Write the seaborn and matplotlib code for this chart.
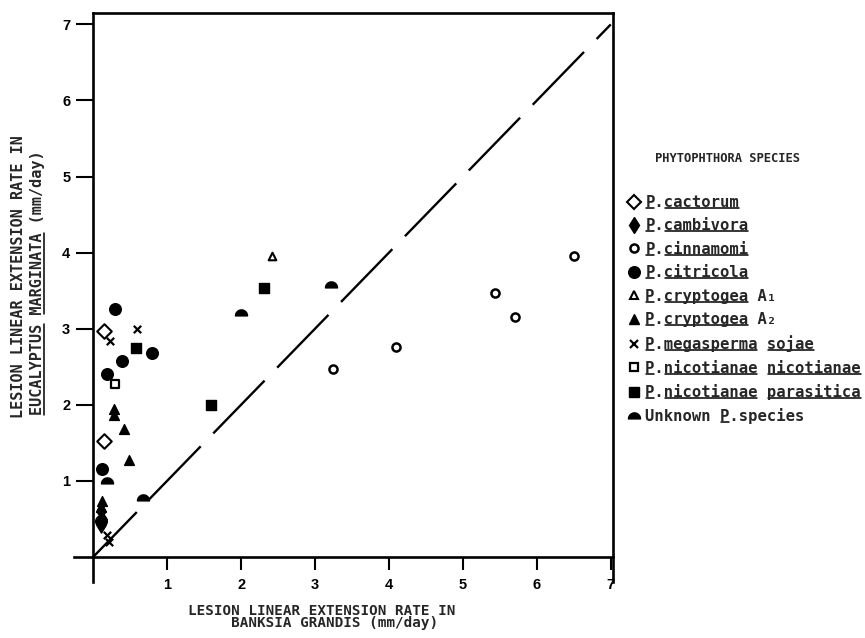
import numpy as np
import pandas as pd
import matplotlib
matplotlib.use("Agg")
import matplotlib.pyplot as plt
import seaborn as sns
from matplotlib.path import Path
from matplotlib.lines import Line2D

# ---------------- data ----------------
cactorum_x = [0.15, 0.14]
cactorum_y = [2.97, 1.52]
cambivora_x = [0.10, 0.12, 0.10]
cambivora_y = [0.60, 0.50, 0.42]
cinnamomi_x = [3.24, 4.10, 5.43, 5.71, 6.50]
cinnamomi_y = [2.47, 2.76, 3.47, 3.16, 3.96]
citricola_x = [0.30, 0.80, 0.39, 0.18, 0.12, 0.10]
citricola_y = [3.26, 2.68, 2.58, 2.40, 1.16, 0.47]
cryptA1_x = [2.42]
cryptA1_y = [3.96]
cryptA2_x = [0.28, 0.28, 0.42, 0.48, 0.12, 0.10]
cryptA2_y = [1.95, 1.87, 1.68, 1.28, 0.73, 0.65]
megasperma_x = [0.59, 0.23, 0.18, 0.22]
megasperma_y = [2.99, 2.84, 0.29, 0.20]
nicnic_x = [0.30]
nicnic_y = [2.27]
nicpar_x = [0.58, 1.59, 2.31]
nicpar_y = [2.74, 2.00, 3.53]
unknown_x = [2.00, 3.22, 0.18, 0.67]
unknown_y = [3.20, 3.58, 1.00, 0.77]

diag_x = [0.0, 7.0]
diag_y = [0.0, 7.0]

labels = ["P.cactorum", "P.cambivora", "P.cinnamomi", "P.citricola",
          "P.cryptogea A\u2081", "P.cryptogea A\u2082", "P.megasperma sojae",
          "P.nicotianae nicotianae", "P.nicotianae parasitica",
          "Unknown P.species"]
xs = [cactorum_x, cambivora_x, cinnamomi_x, citricola_x, cryptA1_x, cryptA2_x,
      megasperma_x, nicnic_x, nicpar_x, unknown_x]
ys = [cactorum_y, cambivora_y, cinnamomi_y, citricola_y, cryptA1_y, cryptA2_y,
      megasperma_y, nicnic_y, nicpar_y, unknown_y]
xticks = [1, 2, 3, 4, 5, 6, 7]
yticks = [1, 2, 3, 4, 5, 6, 7]

df = pd.concat([pd.DataFrame({"x": a, "y": b, "species": l})
                for a, b, l in zip(xs, ys, labels)], ignore_index=True)

# ---------------- styling ----------------
sns.set_theme(style="white")
plt.rcParams["lines.scale_dashes"] = False
MONO = ["DejaVu Sans Mono", "Liberation Mono"]
SANS = ["Liberation Sans", "DejaVu Sans"]
plt.rcParams["font.family"] = SANS

th = np.linspace(0, np.pi, 25)
dome_verts = [(np.cos(t), np.sin(t) - 0.4) for t in th] + [(1.0, -0.4)]
dome = Path(dome_verts, [Path.MOVETO] + [Path.LINETO] * (len(th) - 1) + [Path.CLOSEPOLY])

# marker, area, facecolor, linewidth
styles = {
    "P.cactorum": ("D", 55, "white", 1.5),
    "P.cambivora": ("d", 60, "black", 1.0),
    "P.cinnamomi": ("o", 34, "white", 1.8),
    "P.citricola": ("o", 70, "black", 1.0),
    "P.cryptogea A\u2081": ("^", 30, "white", 1.5),
    "P.cryptogea A\u2082": ("^", 50, "black", 1.0),
    "P.megasperma sojae": ("x", 28, "black", 1.6),
    "P.nicotianae nicotianae": ("s", 36, "white", 1.6),
    "P.nicotianae parasitica": ("s", 45, "black", 1.0),
    "Unknown P.species": (dome, 75, "black", 1.0),
}

fig = plt.figure(figsize=(8.65, 6.38), dpi=100)
ax = fig.add_axes([74 / 865, 56 / 638, 539 / 865, 569 / 638])
ax.set_facecolor("white")

for lab in labels:
    m, s, fc, lw = styles[lab]
    sub = df[df["species"] == lab]
    if m == "x":
        sns.scatterplot(data=sub, x="x", y="y", marker="x", s=s, color="black",
                        linewidth=lw, ax=ax, legend=False, zorder=3)
    else:
        sns.scatterplot(data=sub, x="x", y="y", marker=m, s=s, color=fc,
                        edgecolor="black", linewidth=lw, ax=ax, legend=False, zorder=3)

sns.lineplot(x=diag_x, y=diag_y, ax=ax, color="black", linewidth=1.7,
             linestyle=(8, (53, 13)), zorder=2)

ax.set_xlim(-0.26, 7.03)
ax.set_ylim(-0.33, 7.15)
ax.set_xlabel("")
ax.set_ylabel("")

for sp in ax.spines.values():
    sp.set_visible(True)
    sp.set_color("black")
    sp.set_linewidth(1.9)
ax.spines["left"].set_position(("data", 0))
ax.spines["bottom"].set_position(("data", 0))
ax.spines["left"].set_bounds(-0.33, 7.15)
ax.spines["bottom"].set_bounds(-0.26, 7.03)
ax.spines["top"].set_bounds(0, 7.03)
ax.spines["right"].set_bounds(-0.33, 7.15)

ax.set_xticks(xticks)
ax.set_yticks(yticks)
ax.set_xticklabels([str(v) for v in xticks])
ax.set_yticklabels([str(v) for v in yticks])
ax.tick_params(axis="x", direction="out", length=9.4, width=1.5, pad=5.5,
               labelsize=10.5, colors="black", bottom=True)
ax.tick_params(axis="y", direction="out", length=12, width=1.5, pad=4.5,
               labelsize=10.5, colors="black", left=True)
for t in ax.get_xticklabels() + ax.get_yticklabels():
    t.set_fontweight("bold")
    t.set_family(SANS)

# axis titles
fig.text(188 / 865, 1 - 617 / 638,
         "LESION LINEAR EXTENSION RATE IN\n     BANKSIA GRANDIS (mm/day)",
         family=MONO, weight="bold", fontsize=10.3, ha="left", va="center",
         multialignment="left", linespacing=0.82)
yl1 = fig.text(18.5 / 865, 1 - 418 / 638, "LESION LINEAR EXTENSION RATE IN",
               family=MONO, weight="bold", fontsize=10.9, rotation=90,
               ha="center", va="bottom")
yl2 = fig.text(37.5 / 865, 1 - 415 / 638, "EUCALYPTUS MARGINATA (mm/day)",
               family=MONO, weight="bold", fontsize=10.9, rotation=90,
               ha="center", va="bottom")

# legend
fig.text(655 / 865, 1 - 158 / 638, "PHYTOPHTHORA SPECIES", family=MONO,
         weight="bold", fontsize=8.7, ha="left", va="center")
handles = []
for lab in labels:
    m, s, fc, lw = styles[lab]
    if m == "x":
        h = Line2D([], [], ls="", marker="x", markersize=np.sqrt(s), color="black",
                   markeredgewidth=lw)
    else:
        h = Line2D([], [], ls="", marker=m, markersize=np.sqrt(s), markerfacecolor=fc,
                   markeredgecolor="black", markeredgewidth=lw)
    handles.append(h)
leg = fig.legend(handles, labels, loc="upper left",
                 bbox_to_anchor=(628 / 865, 1 - 195 / 638),
                 bbox_transform=fig.transFigure, frameon=False,
                 borderpad=0, borderaxespad=0, handlelength=0.8,
                 handletextpad=0.32, labelspacing=0.54,
                 prop={"family": MONO, "weight": "bold", "size": 11.2})

# underline helper (monospace -> equal character advance)
underlines = {
    "P.cactorum": [(0, 1), (2, 10)],
    "P.cambivora": [(0, 1), (2, 11)],
    "P.cinnamomi": [(0, 1), (2, 11)],
    "P.citricola": [(0, 1), (2, 11)],
    "P.cryptogea A\u2081": [(0, 1), (2, 11)],
    "P.cryptogea A\u2082": [(0, 1), (2, 11)],
    "P.megasperma sojae": [(0, 1), (2, 12), (13, 18)],
    "P.nicotianae nicotianae": [(0, 1), (2, 12), (13, 23)],
    "P.nicotianae parasitica": [(0, 1), (2, 12), (13, 23)],
    "Unknown P.species": [(8, 9)],
}
fig.canvas.draw()
r = fig.canvas.get_renderer()
inv = fig.transFigure.inverted()


def hline(x0, x1, y, lw=1.1):
    (a, b), (c, d) = inv.transform([(x0, y), (x1, y)])
    fig.add_artist(Line2D([a, c], [b, d], color="black", lw=lw,
                          transform=fig.transFigure))


def vline(x, y0, y1, lw=1.1):
    (a, b), (c, d) = inv.transform([(x, y0), (x, y1)])
    fig.add_artist(Line2D([a, c], [b, d], color="black", lw=lw,
                          transform=fig.transFigure))


for t in leg.get_texts():
    s = t.get_text()
    bb = t.get_window_extent(r)
    cw = bb.width / len(s)
    for i0, i1 in underlines[s]:
        hline(bb.x0 + i0 * cw + 0.5, bb.x0 + i1 * cw - 0.5, bb.y0 + 2.0)

bb = yl2.get_window_extent(r)
s = yl2.get_text()
ch = bb.height / len(s)
for i0, i1 in [(0, 10), (11, 20)]:
    vline(bb.x1 - 1.5, bb.y0 + i0 * ch + 0.5, bb.y0 + i1 * ch - 0.5)

fig.savefig("out.png", dpi=100, facecolor="white")
